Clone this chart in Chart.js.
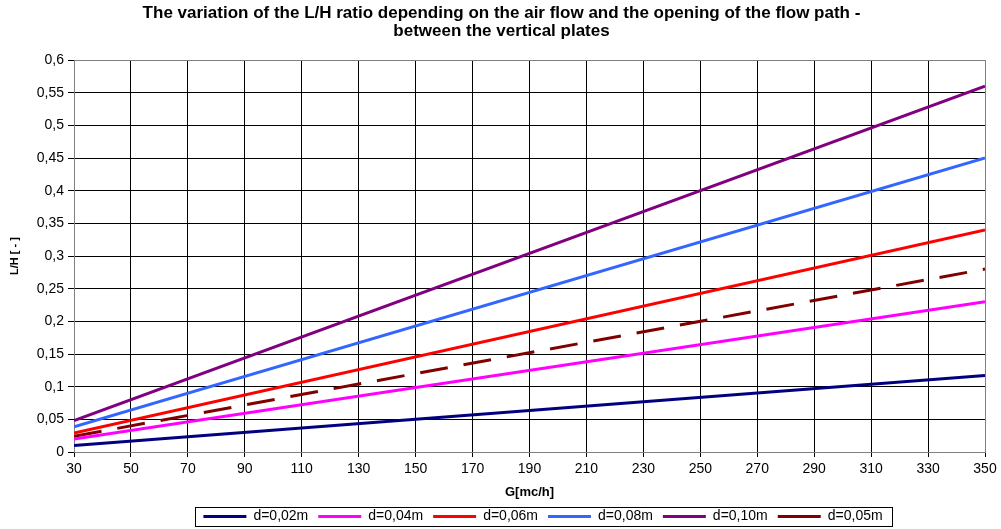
<!DOCTYPE html>
<html><head><meta charset="utf-8">
<script src="https://cdn.jsdelivr.net/npm/chart.js@4/dist/chart.umd.min.js"></script>
<style>html,body{margin:0;padding:0;background:#fff}#wrap{width:1001px;height:529px}</style>
</head><body><div id="wrap"><canvas id="c" width="1001" height="529"></canvas></div>
<script>
const gValues = [30, 350];
const d002 = [0.010, 0.117];
const d004 = [0.0197, 0.230];
const d006 = [0.029, 0.340];
const d008 = [0.0386, 0.450];
const d010 = [0.048, 0.560];
const d005 = [0.024, 0.280];
const seriesLabels = ['d=0,02m','d=0,04m','d=0,06m','d=0,08m','d=0,10m','d=0,05m'];
const seriesColors = ['#000080','#FF00FF','#FF0000','#3366FF','#800080','#800000'];
const seriesData = [d002,d004,d006,d008,d010,d005];
const FONT = 'Liberation Sans, Arial, sans-serif';

const datasets = seriesData.map((arr,i)=>({
  label: seriesLabels[i],
  data: gValues.map((g,j)=>({x:g,y:arr[j]})),
  borderColor: seriesColors[i],
  backgroundColor: seriesColors[i],
  borderWidth: 3,
  borderDash: i===5 ? [28,16] : [],
  pointRadius: 0,
  fill: false,
  tension: 0
}));

const LEGEND_CX = 543;
const legendBox = {
  id:'legendBox',
  afterUpdate(chart){
    const lg = chart.legend;
    const half = (lg.right - lg.left)/2;
    lg.left = LEGEND_CX - half;
    lg.right = LEGEND_CX + half;
    lg.top += 4.5;
    const tb = chart.titleBlock;
    tb.left += 9; tb.right += 9;
  },
  afterDraw(chart){
    const lg = chart.legend;
    const pad = lg.options.labels.padding;
    const w = lg.lineWidths[0] - pad;
    const cx = (lg.left + lg.right)/2;
    const ctx = chart.ctx;
    ctx.save();
    ctx.strokeStyle = '#000';
    ctx.lineWidth = 1;
    const x0 = Math.round(cx - w/2 - 8) + 0.5;
    const x1 = Math.round(cx + w/2 + 9) + 0.5;
    ctx.strokeRect(x0, 507.5, x1 - x0, 19);
    ctx.restore();
  }
};

const gridColor = (max) => (c) => (c.tick && Math.abs(c.tick.value - max) < 1e-9) ? '#808080' : '#000000';

new Chart(document.getElementById('c'), {
  type: 'line',
  data: { datasets },
  plugins: [legendBox],
  options: {
    responsive: false,
    animation: false,
    devicePixelRatio: 1,
    layout: { padding: { left: 0, right: 16, top: 0, bottom: 0 } },
    plugins: {
      title: {
        display: true,
        text: ['The variation of the L/H ratio depending on the air flow and the opening of the flow path -','between the vertical plates'],
        color: '#000',
        font: { family: FONT, size: 17, weight: 'bold', lineHeight: 18/17 },
        padding: { top: 4, bottom: 20 }
      },
      legend: {
        position: 'bottom',
        fullSize: false,
        labels: {
          usePointStyle: true,
          pointStyle: 'line',
          pointStyleWidth: 43,
          color: '#000',
          font: { family: FONT, size: 14 },
          padding: 10,
          boxHeight: 14
        }
      },
      tooltip: { enabled: false }
    },
    scales: {
      x: {
        type: 'linear',
        min: 30, max: 350,
        afterFit: s => { s.height = 43; },
        ticks: { stepSize: 20, color: '#000', font: { family: FONT, size: 14 }, padding: 4, maxRotation: 0 },
        grid: { color: gridColor(350), lineWidth: 1, tickLength: 5, tickColor: '#000' },
        border: { color: '#808080', width: 1 },
        title: { display: true, text: 'G[mc/h]', color: '#000', font: { family: FONT, size: 13, weight: 'bold' }, padding: { top: 0, bottom: -4.8 } }
      },
      y: {
        type: 'linear',
        min: 0, max: 0.6,
        afterFit: s => { s.width = 74; },
        ticks: { stepSize: 0.05, color: '#000', font: { family: FONT, size: 14 }, padding: 4,
          callback: v => Number(v.toFixed(2)).toString().replace('.', ',') },
        grid: { color: gridColor(0.6), lineWidth: 1, tickLength: 6, tickColor: '#000' },
        border: { color: '#808080', width: 1 },
        title: { display: true, text: 'L/H [ - ]', color: '#000', font: { family: FONT, size: 11, weight: 'bold' }, padding: { top: 8, bottom: 0 } }
      }
    }
  }
});
</script></body></html>
